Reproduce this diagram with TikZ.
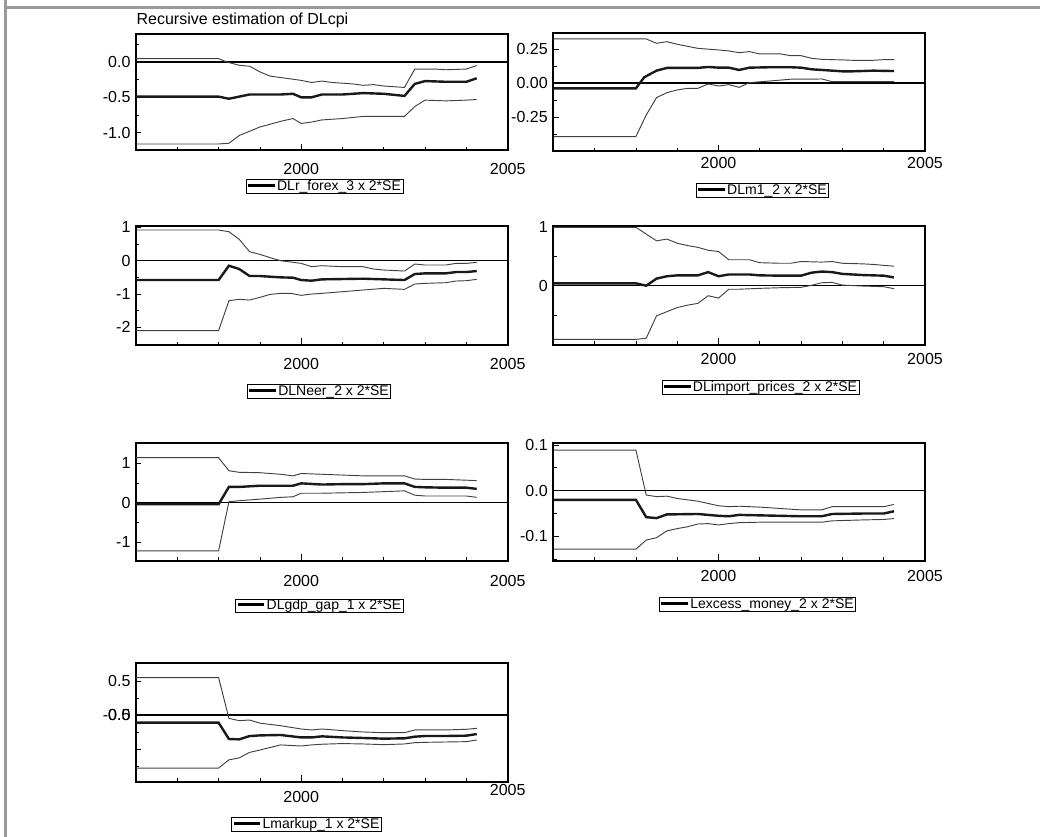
\documentclass[tikz,border=0pt]{standalone}
\usepackage{fontspec}
\setmainfont{Liberation Sans}
\newcommand{\legline}{\raisebox{0.28em}{\rule{20pt}{2.2pt}}\,}

\begin{document}
\begin{tikzpicture}[x=0.75pt,y=-0.75pt]
	\tikzstyle{every node}=[font=\fontsize{12}{14}\selectfont, inner sep=1pt]
	\tikzstyle{frame}=[line width=1.5pt]
	\tikzstyle{zeroline}=[line width=1.2pt]
	\tikzstyle{band}=[line width=0.7pt, black!75]
	\tikzstyle{coef}=[line width=1.8pt, black!90]
	\tikzstyle{tick}=[line width=0.6pt]
	\tikzstyle{ylab}=[anchor=east, xshift=-3pt]
	\tikzstyle{xlab}=[anchor=center]
	\tikzstyle{legend}=[draw, line width=0.5pt, inner xsep=1.5pt, inner ysep=0.4pt, text height=7.6pt, text depth=1.6pt, font=\fontsize{10.5}{12}\selectfont]
	\useasboundingbox (0,0) rectangle (1040,837);

	% page border
	\draw[black!40, line width=2.25pt] (5.5,0) -- (5.5,837);
	\draw[black!40, line width=2.25pt] (4,7.5) -- (1040,7.5);
	\node[anchor=west] (title) at (135,20) {Recursive estimation of DLcpi};

	% DLr_forex_3
	\begin{scope}[shift={(136,62)}, x=30.975pt, y=53pt]
	\draw[frame] (0,-1.25) rectangle (9,0.39);
	\draw[zeroline] (0,0) -- (9,0);
	\foreach \t in {1,2,3,5,6,7,8} \draw[tick] (\t,-1.25) -- ++(0,2.5pt);
	\draw[tick] (4,-1.25) -- ++(0,5pt);
	\foreach \v in {-0.75,-0.25,0.25} \draw[tick] (0,\v) -- ++(2.5pt,0);
	\foreach \v in {-1,-0.5,0} \draw[tick] (0,\v) -- ++(4pt,0);
	\node[ylab] (dlrf-a) at (0,0) {0.0};
	\node[ylab] (dlrf-b) at (0,-0.5) {-0.5};
	\node[ylab] (dlrf-c) at (0,-1) {-1.0};
	\node[xlab, yshift=-14pt] (dlrf-2000) at (4,-1.25) {2000};
	\node[xlab, yshift=-14pt] (dlrf-2005) at (9,-1.25) {2005};
	\draw[band] (0,0.047) -- (2,0.047) -- (2.2,0) -- (2.5,-0.047) -- (2.75,-0.06) -- (3,-0.14) -- (3.25,-0.2) -- (3.5,-0.22) -- (4,-0.26) -- (4.25,-0.29) -- (4.5,-0.27) -- (4.75,-0.29) -- (5.25,-0.31) -- (5.5,-0.33) -- (5.75,-0.32) -- (6,-0.34) -- (6.5,-0.36) -- (6.75,-0.1) -- (7.25,-0.1) -- (7.5,-0.11) -- (8,-0.1) -- (8.25,-0.05);
	\draw[coef] (0,-0.49) -- (2,-0.49) -- (2.25,-0.52) -- (2.5,-0.49) -- (2.75,-0.46) -- (3.5,-0.46) -- (3.8,-0.45) -- (4,-0.5) -- (4.25,-0.5) -- (4.5,-0.46) -- (5,-0.46) -- (5.5,-0.44) -- (6,-0.45) -- (6.5,-0.48) -- (6.75,-0.31) -- (7,-0.27) -- (7.5,-0.28) -- (8,-0.28) -- (8.25,-0.23);
	\draw[band] (0,-1.16) -- (2,-1.16) -- (2.25,-1.15) -- (2.5,-1.04) -- (3,-0.92) -- (3.5,-0.84) -- (3.8,-0.8) -- (4,-0.87) -- (4.25,-0.85) -- (4.5,-0.82) -- (5,-0.8) -- (5.5,-0.77) -- (6,-0.77) -- (6.5,-0.77) -- (6.75,-0.63) -- (7,-0.54) -- (7.5,-0.55) -- (8,-0.54) -- (8.25,-0.53);
	\end{scope}

	% DLm1_2
	\begin{scope}[shift={(553.3,83.3)}, x=30.975pt, y=102pt]
	\draw[frame] (0,-0.5) rectangle (9,0.368);
	\draw[zeroline] (0,0) -- (9,0);
	\foreach \t in {1,2,3,5,6,7,8} \draw[tick] (\t,-0.5) -- ++(0,2.5pt);
	\draw[tick] (4,-0.5) -- ++(0,5pt);
	\foreach \v in {-0.375,-0.125,0.125} \draw[tick] (0,\v) -- ++(2.5pt,0);
	\foreach \v in {-0.25,0,0.25} \draw[tick] (0,\v) -- ++(4pt,0);
	\node[ylab] (dlm-a) at (0,0.25) {0.25};
	\node[ylab] (dlm-b) at (0,0) {0.00};
	\node[ylab] (dlm-c) at (0,-0.25) {-0.25};
	\node[xlab, yshift=-8.6pt] (dlm-2000) at (4,-0.5) {2000};
	\node[xlab, yshift=-8.6pt] (dlm-2005) at (9,-0.5) {2005};
	\draw[band] (0,0.326) -- (2.25,0.326) -- (2.5,0.294) -- (2.75,0.306) -- (3,0.287) -- (3.5,0.257) -- (4,0.245) -- (4.25,0.238) -- (4.5,0.225) -- (4.75,0.233) -- (5,0.216) -- (5.5,0.216) -- (5.75,0.203) -- (6,0.203) -- (6.25,0.184) -- (6.5,0.176) -- (7,0.172) -- (7.25,0.169) -- (7.75,0.169) -- (8,0.174) -- (8.25,0.174);
	\draw[coef] (0,-0.037) -- (2,-0.037) -- (2.2,0.044) -- (2.5,0.093) -- (2.75,0.113) -- (3.5,0.113) -- (3.75,0.12) -- (4,0.115) -- (4.25,0.115) -- (4.5,0.098) -- (4.75,0.115) -- (5.25,0.118) -- (5.75,0.118) -- (6,0.115) -- (6.25,0.103) -- (6.5,0.098) -- (7,0.088) -- (7.25,0.088) -- (7.75,0.093) -- (8.25,0.09);
	\draw[band] (0,-0.392) -- (2,-0.392) -- (2.25,-0.233) -- (2.5,-0.105) -- (2.75,-0.069) -- (3,-0.049) -- (3.25,-0.037) -- (3.5,-0.037) -- (3.75,-0.005) -- (4,-0.02) -- (4.25,-0.01) -- (4.5,-0.03) -- (4.75,0.005) -- (5.25,0.017) -- (5.75,0.03) -- (6.25,0.03) -- (6.5,0.032) -- (6.75,0.012) -- (8.25,0.012);
	\end{scope}

	% DLNeer_2
	\begin{scope}[shift={(136,260.7)}, x=30.975pt, y=25pt]
	\draw[frame] (0,-2.53) rectangle (9,1.04);
	\draw[zeroline] (0,0) -- (9,0);
	\foreach \t in {1,2,3,5,6,7,8} \draw[tick] (\t,-2.53) -- ++(0,2.5pt);
	\draw[tick] (4,-2.53) -- ++(0,5pt);
	\foreach \v in {-1.5,-0.5,0.5} \draw[tick] (0,\v) -- ++(2.5pt,0);
	\foreach \v in {-2,-1,0,1} \draw[tick] (0,\v) -- ++(4pt,0);
	\node[ylab] (neer-a) at (0,1) {1};
	\node[ylab] (neer-b) at (0,0) {0};
	\node[ylab] (neer-c) at (0,-1) {-1};
	\node[ylab] (neer-d) at (0,-2) {-2};
	\node[xlab, yshift=-14.25pt] (neer-2000) at (4,-2.53) {2000};
	\node[xlab, yshift=-14.25pt] (neer-2005) at (9,-2.53) {2005};
	\draw[band] (0,0.92) -- (2,0.92) -- (2.25,0.87) -- (2.5,0.64) -- (2.75,0.27) -- (3,0.19) -- (3.25,0.09) -- (3.5,0) -- (4,-0.08) -- (4.25,-0.18) -- (4.5,-0.15) -- (5,-0.18) -- (5.5,-0.18) -- (5.75,-0.25) -- (6,-0.28) -- (6.5,-0.31) -- (6.75,-0.1) -- (7,-0.13) -- (7.5,-0.13) -- (7.75,-0.08) -- (8,-0.08) -- (8.25,-0.05);
	\draw[coef] (0,-0.58) -- (2,-0.58) -- (2.25,-0.15) -- (2.5,-0.25) -- (2.75,-0.46) -- (3,-0.46) -- (3.5,-0.5) -- (3.8,-0.51) -- (4,-0.58) -- (4.25,-0.6) -- (4.5,-0.56) -- (5,-0.55) -- (5.5,-0.54) -- (6,-0.56) -- (6.5,-0.58) -- (6.75,-0.4) -- (7,-0.38) -- (7.5,-0.38) -- (7.75,-0.34) -- (8,-0.34) -- (8.25,-0.31);
	\draw[band] (0,-2.1) -- (2,-2.1) -- (2.25,-1.2) -- (2.5,-1.16) -- (2.75,-1.18) -- (3,-1.1) -- (3.25,-1.01) -- (3.5,-0.98) -- (3.75,-0.98) -- (4,-1.04) -- (4.25,-1) -- (4.5,-0.98) -- (5,-0.93) -- (5.5,-0.88) -- (6,-0.83) -- (6.5,-0.86) -- (6.75,-0.7) -- (7,-0.68) -- (7.5,-0.66) -- (7.75,-0.61) -- (8,-0.6) -- (8.25,-0.56);
	\end{scope}

	% DLimport_prices_2
	\begin{scope}[shift={(553.3,285.7)}, x=30.975pt, y=44.25pt]
	\draw[frame] (0,-1) rectangle (9,1.01);
	\draw[zeroline] (0,0) -- (9,0);
	\foreach \t in {1,2,3,5,6,7,8} \draw[tick] (\t,-1) -- ++(0,2.5pt);
	\draw[tick] (4,-1) -- ++(0,5pt);
	\foreach \v in {-0.5,0.5} \draw[tick] (0,\v) -- ++(2.5pt,0);
	\foreach \v in {0,1} \draw[tick] (0,\v) -- ++(4pt,0);
	\node[ylab] (imp-a) at (0,1) {1};
	\node[ylab] (imp-b) at (0,0) {0};
	\node[xlab, yshift=-10.5pt] (imp-2000) at (4,-1) {2000};
	\node[xlab, yshift=-10.5pt] (imp-2005) at (9,-1) {2005};
	\draw[band] (0,0.99) -- (2,0.99) -- (2.5,0.76) -- (2.75,0.79) -- (3,0.72) -- (3.25,0.68) -- (3.5,0.65) -- (3.75,0.6) -- (4,0.58) -- (4.25,0.44) -- (4.75,0.44) -- (5,0.39) -- (5.5,0.38) -- (5.75,0.38) -- (6,0.41) -- (6.5,0.4) -- (6.75,0.41) -- (7,0.38) -- (7.5,0.37) -- (7.75,0.36) -- (8.25,0.33);
	\draw[coef] (0,0.04) -- (2,0.04) -- (2.25,0) -- (2.5,0.12) -- (2.75,0.16) -- (3,0.175) -- (3.5,0.175) -- (3.75,0.23) -- (4,0.16) -- (4.25,0.19) -- (4.75,0.19) -- (5,0.175) -- (5.5,0.17) -- (6,0.17) -- (6.25,0.22) -- (6.5,0.24) -- (6.75,0.23) -- (7,0.2) -- (7.5,0.18) -- (8,0.17) -- (8.25,0.14);
	\draw[band] (0,-0.91) -- (2,-0.91) -- (2.25,-0.89) -- (2.5,-0.51) -- (2.75,-0.44) -- (3,-0.37) -- (3.25,-0.33) -- (3.5,-0.3) -- (3.75,-0.17) -- (4,-0.21) -- (4.25,-0.06) -- (4.5,-0.06) -- (5,-0.045) -- (5.5,-0.034) -- (6,-0.028) -- (6.25,0.006) -- (6.5,0.05) -- (6.75,0.056) -- (7,0.01) -- (7.5,-0.006) -- (8,-0.017) -- (8.25,-0.05);
	\end{scope}

	% DLgdp_gap_1
	\begin{scope}[shift={(136,502.7)}, x=30.975pt, y=29.6pt]
	\draw[frame] (0,-1.47) rectangle (9,1.5);
	\draw[zeroline] (0,0) -- (9,0);
	\foreach \t in {1,2,3,5,6,7,8} \draw[tick] (\t,-1.47) -- ++(0,2.5pt);
	\draw[tick] (4,-1.47) -- ++(0,5pt);
	\foreach \v in {-0.5,0.5} \draw[tick] (0,\v) -- ++(2.5pt,0);
	\foreach \v in {-1,0,1} \draw[tick] (0,\v) -- ++(4pt,0);
	\node[ylab] (gdp-a) at (0,1) {1};
	\node[ylab] (gdp-b) at (0,0) {0};
	\node[ylab] (gdp-c) at (0,-1) {-1};
	\node[xlab, yshift=-15pt] (gdp-2000) at (4,-1.47) {2000};
	\node[xlab, yshift=-15pt] (gdp-2005) at (9,-1.47) {2005};
	\draw[band] (0,1.14) -- (2,1.14) -- (2.25,0.81) -- (2.5,0.77) -- (3,0.76) -- (3.5,0.72) -- (3.8,0.68) -- (4,0.74) -- (4.5,0.72) -- (5,0.7) -- (5.5,0.68) -- (6,0.68) -- (6.5,0.68) -- (6.75,0.6) -- (7,0.59) -- (7.5,0.59) -- (8,0.57) -- (8.25,0.56);
	\draw[coef] (0,-0.04) -- (2,-0.04) -- (2.25,0.4) -- (2.5,0.4) -- (3,0.43) -- (3.8,0.43) -- (4,0.49) -- (4.5,0.46) -- (5,0.47) -- (5.5,0.47) -- (6,0.49) -- (6.5,0.49) -- (6.75,0.4) -- (7,0.39) -- (7.5,0.38) -- (8,0.38) -- (8.25,0.35);
	\draw[band] (0,-1.22) -- (2,-1.22) -- (2.25,0.025) -- (2.5,0.05) -- (3,0.09) -- (3.5,0.135) -- (3.8,0.15) -- (4,0.24) -- (4.5,0.24) -- (5,0.25) -- (5.5,0.26) -- (6,0.28) -- (6.5,0.3) -- (6.75,0.19) -- (7,0.17) -- (7.5,0.17) -- (8,0.17) -- (8.25,0.135);
	\end{scope}

	% Lexcess_money_2
	\begin{scope}[shift={(553.3,490.7)}, x=30.975pt, y=342.5pt]
	\draw[frame] (0,-0.153) rectangle (9,0.104);
	\draw[zeroline] (0,0) -- (9,0);
	\foreach \t in {1,2,3,5,6,7,8} \draw[tick] (\t,-0.153) -- ++(0,2.5pt);
	\draw[tick] (4,-0.153) -- ++(0,5pt);
	\foreach \v in {-0.15,-0.05,0.05} \draw[tick] (0,\v) -- ++(2.5pt,0);
	\foreach \v in {-0.1,0,0.1} \draw[tick] (0,\v) -- ++(4pt,0);
	\node[ylab] (exm-a) at (0,0.1) {0.1};
	\node[ylab] (exm-b) at (0,0) {0.0};
	\node[ylab] (exm-c) at (0,-0.1) {-0.1};
	\node[xlab, yshift=-11.25pt] (exm-2000) at (4,-0.153) {2000};
	\node[xlab, yshift=-11.25pt] (exm-2005) at (9,-0.153) {2005};
	\draw[band] (0,0.089) -- (2,0.089) -- (2.25,-0.0095) -- (2.5,-0.013) -- (2.75,-0.012) -- (3,-0.017) -- (3.25,-0.02) -- (3.5,-0.023) -- (3.75,-0.028) -- (4,-0.033) -- (4.25,-0.035) -- (4.5,-0.034) -- (5,-0.036) -- (5.5,-0.039) -- (6,-0.042) -- (6.5,-0.042) -- (6.75,-0.035) -- (8,-0.035) -- (8.25,-0.03);
	\draw[coef] (0,-0.02) -- (2,-0.02) -- (2.25,-0.058) -- (2.5,-0.06) -- (2.75,-0.052) -- (3.5,-0.051) -- (4,-0.055) -- (4.25,-0.056) -- (4.5,-0.053) -- (5,-0.054) -- (5.5,-0.055) -- (6,-0.056) -- (6.5,-0.056) -- (6.75,-0.051) -- (7.5,-0.05) -- (8,-0.05) -- (8.25,-0.045);
	\draw[band] (0,-0.128) -- (2,-0.128) -- (2.25,-0.108) -- (2.5,-0.103) -- (2.75,-0.088) -- (3,-0.083) -- (3.25,-0.079) -- (3.5,-0.073) -- (3.75,-0.072) -- (4,-0.075) -- (4.25,-0.072) -- (4.5,-0.07) -- (5,-0.069) -- (6.5,-0.069) -- (6.75,-0.066) -- (7.5,-0.064) -- (8,-0.063) -- (8.25,-0.061);
	\end{scope}

	% Lmarkup_1
	\begin{scope}[shift={(136,715)}, x=30.975pt, y=51pt]
	\draw[frame] (0,-0.98) rectangle (9,0.76);
	\draw[zeroline] (0,0) -- (9,0);
	\foreach \t in {1,2,3,5,6,7,8} \draw[tick] (\t,-0.98) -- ++(0,2.5pt);
	\draw[tick] (4,-0.98) -- ++(0,5pt);
	\foreach \v in {-0.75,-0.25,0.25} \draw[tick] (0,\v) -- ++(2.5pt,0);
	\foreach \v in {-0.5,0,0.5} \draw[tick] (0,\v) -- ++(4pt,0);
	\node[ylab] (mku-a) at (0,0.5) {0.5};
	\node[ylab] (mku-b) at (0,0) {0.0};
	\node[ylab] (mku-c) at (0,0) {-0.5};
	\node[xlab, yshift=-11.25pt] (mku-2000) at (4,-0.98) {2000};
	\node[xlab, yshift=-6pt] (mku-2005) at (9,-0.98) {2005};
	\draw[band] (0,0.55) -- (2,0.55) -- (2.25,-0.05) -- (2.5,-0.083) -- (2.75,-0.074) -- (3,-0.12) -- (3.5,-0.157) -- (4,-0.206) -- (4.25,-0.22) -- (4.5,-0.206) -- (5,-0.23) -- (5.5,-0.25) -- (6,-0.26) -- (6.5,-0.26) -- (6.75,-0.22) -- (7.5,-0.22) -- (8,-0.21) -- (8.25,-0.196);
	\draw[coef] (0,-0.113) -- (2,-0.113) -- (2.25,-0.353) -- (2.5,-0.358) -- (2.75,-0.31) -- (3,-0.3) -- (3.5,-0.294) -- (4,-0.33) -- (4.25,-0.33) -- (4.5,-0.314) -- (5,-0.33) -- (5.5,-0.338) -- (6,-0.348) -- (6.5,-0.343) -- (6.75,-0.319) -- (7,-0.309) -- (7.5,-0.309) -- (8,-0.304) -- (8.25,-0.28);
	\draw[band] (0,-0.78) -- (2,-0.78) -- (2.25,-0.66) -- (2.5,-0.63) -- (2.75,-0.55) -- (3,-0.515) -- (3.5,-0.44) -- (4,-0.456) -- (4.25,-0.44) -- (4.5,-0.43) -- (5,-0.42) -- (5.5,-0.426) -- (6,-0.436) -- (6.5,-0.426) -- (6.75,-0.407) -- (7,-0.402) -- (7.5,-0.397) -- (8,-0.392) -- (8.25,-0.368);
	\end{scope}

	% legends
	\node[legend] (leg-dlrf) at (324.5,186.5) {\legline DLr\_forex\_3 x 2*SE};
	\node[legend] (leg-dlm) at (762.5,190.5) {\legline DLm1\_2 x 2*SE};
	\node[legend] (leg-neer) at (319,391.5) {\legline DLNeer\_2 x 2*SE};
	\node[legend] (leg-imp) at (760.5,387.5) {\legline DLimport\_prices\_2 x 2*SE};
	\node[legend] (leg-gdp) at (319.5,606) {\legline DLgdp\_gap\_1 x 2*SE};
	\node[legend] (leg-exm) at (757.5,604.5) {\legline Lexcess\_money\_2 x 2*SE};
	\node[legend] (leg-mku) at (306.5,824.5) {\legline Lmarkup\_1 x 2*SE};
\end{tikzpicture}
\end{document}
